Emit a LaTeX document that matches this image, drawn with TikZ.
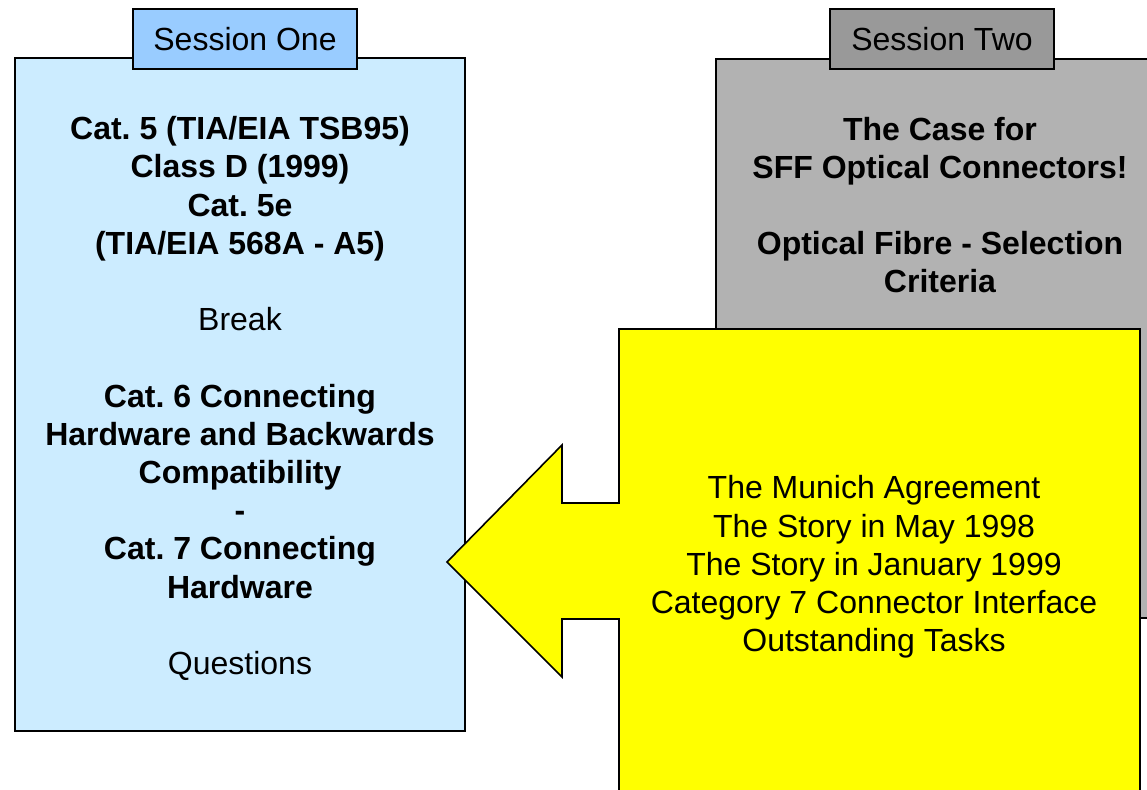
\documentclass[tikz,border=0pt]{standalone}
\usepackage{fontspec}
\setmainfont{Liberation Sans}
\frenchspacing
\definecolor{boxblue}{HTML}{CCECFF}
\definecolor{tabblue}{HTML}{99CCFF}
\definecolor{boxgray}{HTML}{B2B2B2}
\definecolor{tabgray}{HTML}{999999}
\definecolor{arrowyellow}{HTML}{FFFF00}
\begin{document}
\begin{tikzpicture}[x=1pt,y=-1pt,
  panel/.style={draw=black,line width=1.6pt,inner sep=0pt,anchor=north west},
  tab/.style={draw=black,line width=1.6pt,inner sep=0pt,minimum width=224pt,minimum height=60pt,
     font=\fontsize{32}{38.2}\selectfont},
  txt/.style={align=center,inner sep=0pt,font=\fontsize{32}{38.2}\selectfont}]
\useasboundingbox (0,0) rectangle (1147,789);
\clip (0,0) rectangle (1147,789);
% Session one
\node[panel,fill=boxblue,minimum width=450pt,minimum height=673pt] (s1box) at (14,57) {};
\node[tab,fill=tabblue] (s1tab) at (245,39) {Session One};
\node[txt] (s1txt) at (240,398.5) {\bfseries Cat. 5 (TIA/EIA TSB95)\\ \bfseries Class D (1999)\\ \bfseries Cat. 5e\\ \bfseries (TIA/EIA 568A - A5)\\[38.2pt]
  Break\\[38.2pt]
  \bfseries Cat. 6 Connecting\\ \bfseries Hardware and Backwards\\ \bfseries Compatibility\\ \bfseries -\\ \bfseries Cat. 7 Connecting\\ \bfseries Hardware\\[38.2pt]
  Questions};
% Session two
\node[panel,fill=boxgray,minimum width=460pt,minimum height=559pt] (s2box) at (715,58) {};
\node[tab,fill=tabgray] (s2tab) at (942,39) {Session Two};
\node[txt,font=\fontsize{32}{38.2}\selectfont\bfseries] (s2txt) at (940,205) {The Case for\\ SFF Optical Connectors!\\[38.2pt] Optical Fibre - Selection\\ Criteria};
% Yellow arrow callout
\draw[line width=1.6pt,fill=arrowyellow,line join=miter]
  (447,562) -- (562,445) -- (562,503) -- (619,503) -- (619,329) -- (1140,329)
  -- (1140,810) -- (619,810) -- (619,619) -- (562,619) -- (562,677) -- cycle;
\node[txt] (ytxt) at (874,567) {The Munich Agreement\\ The Story in May 1998\\ The Story in January 1999\\ Category 7 Connector Interface\\ Outstanding Tasks};
\end{tikzpicture}
\end{document}
